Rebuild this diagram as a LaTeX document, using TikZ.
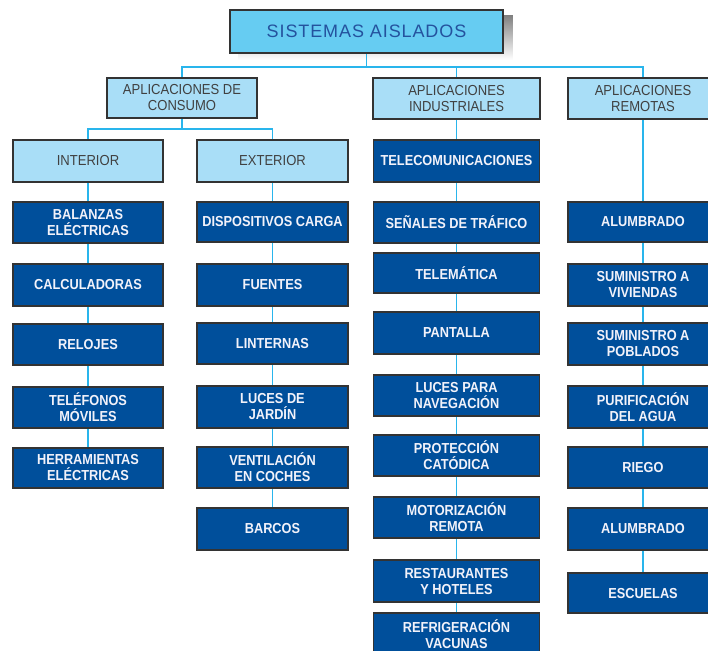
\documentclass[tikz,border=0pt]{standalone}
\usepackage{fontspec}
\setmainfont{Liberation Sans}
\newfontfamily\cnfont{Liberation Sans}[FakeStretch=0.88]
\newfontfamily\grpfont{Liberation Sans}[FakeStretch=0.9]
\newfontfamily\titlefont{Liberation Sans}[LetterSpace=5]
\usetikzlibrary{backgrounds}

\definecolor{linkblue}{HTML}{29B5EC}
\definecolor{topfill}{HTML}{66CCF2}
\definecolor{topink}{HTML}{24529E}
\definecolor{lightfill}{HTML}{A9DEF7}
\definecolor{lightink}{HTML}{404040}
\definecolor{darkfill}{HTML}{004F9B}
\definecolor{darkink}{HTML}{F2F2FA}
\definecolor{edge}{HTML}{333333}
\definecolor{shade}{HTML}{D4D4D4}

\tikzset{
  box/.style={draw=edge, line width=1.3pt, align=center, inner sep=0pt, minimum height=41pt},
  titlebox/.style={box, fill=topfill, text=topink, minimum width=273pt, minimum height=43pt,
    line width=1.8pt, font=\titlefont\fontsize{18}{20}\selectfont},
  groupbox/.style={box, fill=lightfill, text=lightink, font=\grpfont\fontsize{14.5}{16}\selectfont},
  itembox/.style={box, fill=darkfill, text=darkink, font=\cnfont\bfseries\fontsize{14.5}{16}\selectfont},
  link/.style={draw=linkblue, line width=1.6pt},
}

\begin{document}
\begin{tikzpicture}[x=1pt, y=-1pt]
\useasboundingbox (0,0) rectangle (708,650);

% root
\node[titlebox] (top) at (366.5,31.5) {SISTEMAS AISLADOS};

% application groups
\node[groupbox, minimum width=150pt, minimum height=40pt] (consumo) at (182,98) {APLICACIONES DE\\CONSUMO};
\node[groupbox, minimum width=167pt] (indus) at (456.5,98.5) {APLICACIONES\\INDUSTRIALES};
\node[groupbox, minimum width=150pt] (remot) at (643,98.5) {APLICACIONES\\REMOTAS};

\node[groupbox, minimum width=150pt, minimum height=42pt] (inter) at (88,161) {INTERIOR};
\node[groupbox, minimum width=151pt, minimum height=42pt] (exter) at (272.5,161) {EXTERIOR};

% interior column
\begin{scope}[every node/.style={itembox, minimum width=150pt}]
\node (a1) at (88,222.5) {BALANZAS\\ELÉCTRICAS};
\node[minimum height=42pt] (a2) at (88,285) {CALCULADORAS};
\node (a3) at (88,344.5) {RELOJES};
\node (a4) at (88,407.5) {TELÉFONOS\\MÓVILES};
\node[minimum height=40pt] (a5) at (88,468) {HERRAMIENTAS\\ELÉCTRICAS};
\end{scope}

% exterior column
\begin{scope}[every node/.style={itembox, minimum width=151pt}]
\node[minimum height=40pt] (b1) at (272.5,222) {DISPOSITIVOS CARGA};
\node[minimum height=42pt] (b2) at (272.5,285) {FUENTES};
\node (b3) at (272.5,343.5) {LINTERNAS};
\node[minimum height=42pt] (b4) at (272.5,407) {LUCES DE\\JARDÍN};
\node (b5) at (272.5,467.5) {VENTILACIÓN\\EN COCHES};
\node[minimum height=42pt] (b6) at (272.5,529) {BARCOS};
\end{scope}

% industrial column
\begin{scope}[every node/.style={itembox, minimum width=166pt}]
\node[minimum height=42pt] (c1) at (456.5,161) {TELECOMUNICACIONES};
\node (c2) at (456.5,222.5) {SEÑALES DE TRÁFICO};
\node[minimum height=40pt] (c3) at (456.5,273) {TELEMÁTICA};
\node[minimum height=42pt] (c4) at (456.5,333) {PANTALLA};
\node (c5) at (456.5,395.5) {LUCES PARA\\NAVEGACIÓN};
\node (c6) at (456.5,455.5) {PROTECCIÓN\\CATÓDICA};
\node (c7) at (456.5,517.5) {MOTORIZACIÓN\\REMOTA};
\node[minimum height=42pt] (c8) at (456.5,581) {RESTAURANTES\\Y HOTELES};
\node[minimum height=42pt] (c9) at (456.5,634) {REFRIGERACIÓN\\VACUNAS};
\end{scope}

% remote column
\begin{scope}[every node/.style={itembox, minimum width=150pt}]
\node[minimum height=40pt] (d1) at (643,222) {ALUMBRADO};
\node[minimum height=42pt] (d2) at (643,285) {SUMINISTRO A\\VIVIENDAS};
\node[minimum height=42pt] (d3) at (643,344) {SUMINISTRO A\\POBLADOS};
\node[minimum height=42pt] (d4) at (643,407) {PURIFICACIÓN\\DEL AGUA};
\node (d5) at (643,467.5) {RIEGO};
\node[minimum height=42pt] (d6) at (643,529) {ALUMBRADO};
\node[minimum height=40pt] (d7) at (643,593) {ESCUELAS};
\end{scope}

\coordinate (busA) at (0,67);
\coordinate (busB) at (0,129);

\begin{scope}[on background layer]
  \fill[white] (0,0) rectangle (708,650);
  % drop shadow of the root box
  \fill[shade] ([shift={(9,6)}]top.south west) rectangle ([shift={(9,6)}]top.north east);
  % first level
  \draw[link] (top.south) -- (top.south |- busA);
  \draw[link] (consumo.north) -- (consumo.north |- busA) -| (remot.north);
  \draw[link] (indus.north) -- (indus.north |- busA);
  % consumer split
  \draw[link] (consumo.south) -- (consumo.south |- busB);
  \draw[link] (inter.north) -- (inter.north |- busB) -| (exter.north);
  % vertical chains
  \foreach \u/\v in {inter/a1, a1/a2, a2/a3, a3/a4, a4/a5,
                     exter/b1, b1/b2, b2/b3, b3/b4, b4/b5, b5/b6,
                     indus/c1, c1/c2, c2/c3, c3/c4, c4/c5, c5/c6, c6/c7, c7/c8, c8/c9,
                     remot/d1, d1/d2, d2/d3, d3/d4, d4/d5, d5/d6, d6/d7}
    \draw[link] (\u.south) -- (\u.south |- \v.north);
\end{scope}
\end{tikzpicture}
\end{document}
